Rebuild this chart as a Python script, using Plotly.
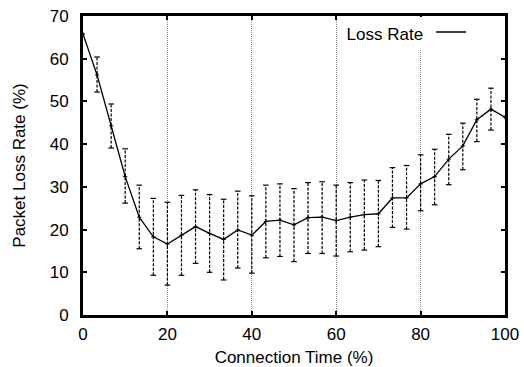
import plotly.graph_objects as go

x_pct = [0, 3.33, 6.67, 10, 13.33, 16.67, 20, 23.33, 26.67, 30, 33.33, 36.67, 40, 43.33, 46.67,
         50, 53.33, 56.67, 60, 63.33, 66.67, 70, 73.33, 76.67, 80, 83.33, 86.67, 90, 93.33, 96.67, 100]
loss = [65.8, 56.2, 44.3, 32.4, 22.9, 18.3, 16.6, 18.7, 20.7, 19.1, 17.7, 19.9, 18.7, 21.9, 22.2,
        21.1, 22.8, 22.9, 22.1, 22.9, 23.5, 23.7, 27.4, 27.4, 30.7, 32.4, 36.5, 39.6, 45.7, 48.2, 46.3]
err_hi = [None, 60.4, 49.4, 38.9, 30.4, 27.3, 26.4, 28.0, 29.3, 28.2, 27.1, 29.0, 27.9, 30.4, 30.7,
          29.6, 31.0, 31.2, 30.4, 31.0, 31.6, 31.5, 34.5, 35.0, 37.5, 38.8, 42.3, 44.9, 50.5, 53.1, None]
err_lo = [None, 52.2, 39.1, 26.2, 15.5, 9.3, 7.0, 9.3, 12.1, 10.0, 8.2, 11.0, 9.8, 13.4, 13.7,
          12.5, 14.4, 14.4, 13.8, 14.8, 15.2, 16.0, 20.5, 20.1, 24.4, 25.8, 30.5, 34.0, 40.6, 43.3, None]

ex, ey, cx, cy = [], [], [], []
for xv, lo, hi in zip(x_pct, err_lo, err_hi):
    if lo is None:
        continue
    ex += [xv, xv, None]
    ey += [lo, hi, None]
    cx += [xv, xv]
    cy += [lo, hi]

fig = go.Figure()
fig.add_trace(go.Scatter(x=ex, y=ey, mode="lines", line=dict(color="black", width=1.2, dash="3px,1.5px"),
                         showlegend=False, hoverinfo="skip"))
fig.add_trace(go.Scatter(x=cx, y=cy, mode="markers",
                         marker=dict(symbol="line-ew", size=4, line=dict(color="black", width=1.2)),
                         showlegend=False, hoverinfo="skip"))
fig.add_trace(go.Scatter(x=x_pct, y=loss, mode="lines+markers", showlegend=False,
                         line=dict(color="black", width=1.3),
                         marker=dict(symbol="cross-thin", size=3, line=dict(color="black", width=1))))
fig.add_trace(go.Scatter(x=[None], y=[None], mode="lines", name=" ",
                         line=dict(color="black", width=1.3)))

font = "Liberation Sans, Arial, Helvetica, sans-serif"
fs = 17
fig.update_layout(
    width=524, height=367,
    margin=dict(l=83, r=19, t=16, b=52),
    paper_bgcolor="white", plot_bgcolor="white",
    font=dict(family=font, size=fs, color="black"),
    showlegend=True,
    legend=dict(x=0.935, y=0.995, xanchor="right", yanchor="top", bgcolor="white",
                title=dict(text="Loss Rate", side="left", font=dict(size=fs)),
                font=dict(size=2), borderwidth=0, itemwidth=30,
                tracegroupgap=0),
    xaxis=dict(range=[0, 100], tickvals=[0, 20, 40, 60, 80, 100], ticks="inside", ticklen=4, tickwidth=2,
               tickcolor="black", showline=True, linewidth=3, linecolor="black", mirror="ticks",
               showgrid=True, gridcolor="#888888", gridwidth=1, griddash="1px,1px", zeroline=False,
               automargin=False,
               title=dict(text="Connection Time (%)", font=dict(size=fs), standoff=14),
               tickfont=dict(size=fs), ticklabelstandoff=2),
    yaxis=dict(range=[0, 70], tickvals=[0, 10, 20, 30, 40, 50, 60, 70], ticks="inside", ticklen=4, tickwidth=2,
               tickcolor="black", showline=True, linewidth=3, linecolor="black", mirror="ticks",
               showgrid=False, zeroline=False, automargin=False,
               title=dict(text="Packet Loss Rate (%)", font=dict(size=fs), standoff=20),
               tickfont=dict(size=fs), ticklabelstandoff=8),
)
fig.write_html("out.html")
